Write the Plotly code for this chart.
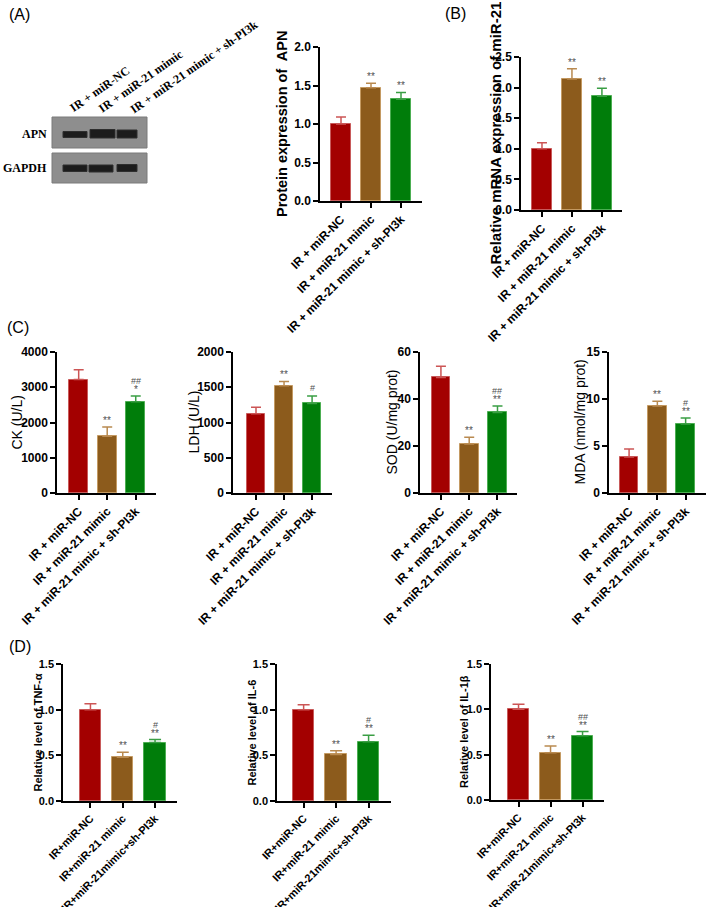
import plotly.graph_objects as go

W, H = 709, 907

# ---------------- data ----------------
groups_long = ["IR + miR-NC", "IR + miR-21 mimic", "IR + miR-21 mimic + sh-PI3k"]
groups_short = ["IR+miR-NC", "IR+miR-21 mimic", "IR+miR-21mimic+sh-PI3k"]

apn_mean = [1.00, 1.47, 1.32]
apn_err = [0.09, 0.06, 0.09]
apn_star = ["", "**", "**"]
apn_hash = ["", "", ""]

mir21_mean = [1.00, 2.14, 1.86]
mir21_err = [0.10, 0.17, 0.13]
mir21_star = ["", "**", "**"]
mir21_hash = ["", "", ""]

ck_mean = [3220, 1610, 2590]
ck_err = [280, 265, 160]
ck_star = ["", "**", "*"]
ck_hash = ["", "", "##"]

ldh_mean = [1125, 1520, 1270]
ldh_err = [90, 62, 105]
ldh_star = ["", "**", ""]
ldh_hash = ["", "", "#"]

sod_mean = [49.2, 20.9, 34.3]
sod_err = [4.7, 2.8, 2.7]
sod_star = ["", "**", "**"]
sod_hash = ["", "", "##"]

mda_mean = [3.83, 9.26, 7.34]
mda_err = [0.85, 0.50, 0.64]
mda_star = ["", "**", "**"]
mda_hash = ["", "", "#"]

tnf_mean = [1.00, 0.48, 0.64]
tnf_err = [0.066, 0.055, 0.033]
tnf_star = ["", "**", "**"]
tnf_hash = ["", "", "#"]

il6_mean = [1.00, 0.51, 0.65]
il6_err = [0.055, 0.040, 0.070]
il6_star = ["", "**", "**"]
il6_hash = ["", "", "#"]

il1b_mean = [1.00, 0.52, 0.71]
il1b_err = [0.055, 0.075, 0.045]
il1b_star = ["", "**", "**"]
il1b_hash = ["", "", "##"]

bar_colors = ["#a30000", "#8c5b1c", "#007d0a"]
edge_colors = ["#c85a5a", "#c49a62", "#4cae52"]
err_colors = ["#cc5555", "#b98a50", "#3a9e44"]

FONT = "Arial, Liberation Sans, sans-serif"
SERIF = "Times New Roman, Liberation Serif, serif"

fig = go.Figure()


def px_x(v):
    return v / W


def px_y(v):
    return 1 - v / H


panels = [
    dict(m=apn_mean, e=apn_err, s=apn_star, h=apn_hash, lab=groups_long,
         xd=(320, 422), yd=(47, 201), xr=(-0.7, 2.7), yr=(0, 2.0), dt=0.5, fmt=".1f",
         title="Protein expression of  APN", tx=282, tfs=14.5, tbold=True, tkfs=12, lfs=12, cap=5),
    dict(m=mir21_mean, e=mir21_err, s=mir21_star, h=mir21_hash, lab=groups_long,
         xd=(521, 622), yd=(57, 210), xr=(-0.7, 2.67), yr=(0, 2.5), dt=0.5, fmt=".1f",
         title="Relative mRNA expression of miR-21", tx=495, tfs=15, tbold=True, tkfs=12, lfs=12, cap=5),
    dict(m=ck_mean, e=ck_err, s=ck_star, h=ck_hash, lab=groups_long,
         xd=(57, 156), yd=(352, 493), xr=(-0.76, 2.71), yr=(0, 4000), dt=1000, fmt="d",
         title="CK (U/L)", tx=16, tfs=14, tbold=False, tkfs=12, lfs=12, cap=5),
    dict(m=ldh_mean, e=ldh_err, s=ldh_star, h=ldh_hash, lab=groups_long,
         xd=(233, 332), yd=(352, 493), xr=(-0.82, 2.71), yr=(0, 2000), dt=500, fmt="d",
         title="LDH (U/L)", tx=193, tfs=14, tbold=False, tkfs=12, lfs=12, cap=5),
    dict(m=sod_mean, e=sod_err, s=sod_star, h=sod_hash, lab=groups_long,
         xd=(420, 517), yd=(352, 493), xr=(-0.74, 2.69), yr=(0, 60), dt=20, fmt="d",
         title="SOD (U/mg prot)", tx=391, tfs=14, tbold=False, tkfs=12, lfs=12, cap=5),
    dict(m=mda_mean, e=mda_err, s=mda_star, h=mda_hash, lab=groups_long,
         xd=(609, 706), yd=(352, 493), xr=(-0.71, 2.72), yr=(0, 15), dt=5, fmt="d",
         title="MDA (nmol/mg prot)", tx=579, tfs=14, tbold=False, tkfs=12, lfs=12, cap=5),
    dict(m=tnf_mean, e=tnf_err, s=tnf_star, h=tnf_hash, lab=groups_short,
         xd=(63, 177), yd=(664, 801), xr=(-0.85, 2.68), yr=(0, 1.5), dt=0.5, fmt=".1f",
         title="Relative level of TNF-α", tx=37, tfs=11, tbold=True, tkfs=11, lfs=11, cap=6),
    dict(m=il6_mean, e=il6_err, s=il6_star, h=il6_hash, lab=groups_short,
         xd=(277, 391), yd=(664, 801), xr=(-0.82, 2.69), yr=(0, 1.5), dt=0.5, fmt=".1f",
         title="Relative level of IL-6", tx=251, tfs=11, tbold=True, tkfs=11, lfs=11, cap=6),
    dict(m=il1b_mean, e=il1b_err, s=il1b_star, h=il1b_hash, lab=groups_short,
         xd=(491, 604), yd=(664, 800), xr=(-0.86, 2.67), yr=(0, 1.5), dt=0.5, fmt=".1f",
         title="Relative level of IL-1β", tx=464, tfs=11, tbold=True, tkfs=11, lfs=11, cap=6),
]

annotations = []
layout_axes = {}

for i, p in enumerate(panels):
    n = i + 1
    xa = "x" if n == 1 else f"x{n}"
    ya = "y" if n == 1 else f"y{n}"
    for j in range(3):
        fig.add_trace(go.Bar(
            x=[j], y=[p["m"][j]], width=0.66,
            marker=dict(color=bar_colors[j], line=dict(color=edge_colors[j], width=1)),
            error_y=dict(type="data", symmetric=False, array=[p["e"][j]], arrayminus=[0],
                         color=err_colors[j], thickness=1.5, width=p["cap"]),
            xaxis=xa, yaxis=ya, showlegend=False, hoverinfo="skip",
        ))
        top = p["m"][j] + p["e"][j]
        if p["s"][j]:
            annotations.append(dict(x=j, y=top, xref=xa, yref=ya, text=p["s"][j],
                                    showarrow=False, yanchor="bottom", yshift=-1,
                                    font=dict(family=FONT, size=10, color="#505050")))
        if p["h"][j]:
            annotations.append(dict(x=j, y=top, xref=xa, yref=ya, text=p["h"][j],
                                    showarrow=False, yanchor="bottom",
                                    yshift=8 if p["s"][j] else 1,
                                    font=dict(family=FONT, size=9, color="#505050")))
    xkey = "xaxis" if n == 1 else f"xaxis{n}"
    ykey = "yaxis" if n == 1 else f"yaxis{n}"
    layout_axes[xkey] = dict(
        domain=[px_x(p["xd"][0]), px_x(p["xd"][1])], range=list(p["xr"]), anchor=ya,
        tickmode="array", tickvals=[0, 1, 2], ticktext=p["lab"], tickangle=-45,
        showline=True, linecolor="black", linewidth=1.5, ticks="outside", ticklen=5,
        tickwidth=1.5, tickcolor="black", showgrid=False, zeroline=False, automargin=False,
        tickfont=dict(family=FONT, size=p["lfs"], color="black", weight="bold"),
        fixedrange=True,
    )
    layout_axes[ykey] = dict(
        domain=[px_y(p["yd"][1]), px_y(p["yd"][0])], range=list(p["yr"]), anchor=xa,
        tickmode="linear", tick0=0, dtick=p["dt"], tickformat=p["fmt"],
        showline=True, linecolor="black", linewidth=1.5, ticks="outside", ticklen=5,
        tickwidth=1.5, tickcolor="black", showgrid=False, zeroline=False, automargin=False,
        tickfont=dict(family=FONT, size=p["tkfs"], color="black", weight="bold"),
        fixedrange=True,
    )
    annotations.append(dict(
        x=px_x(p["tx"]), y=px_y((p["yd"][0] + p["yd"][1]) / 2), xref="paper", yref="paper",
        text=p["title"], textangle=-90, showarrow=False, xanchor="center", yanchor="middle",
        font=dict(family=FONT, size=p["tfs"], color="black",
                  weight="bold" if p["tbold"] else "normal"),
    ))

# panel letters
for txt, x, y in [("(A)", 7, 15), ("(B)", 443, 13), ("(C)", 5, 327), ("(D)", 7, 646)]:
    annotations.append(dict(x=px_x(x), y=px_y(y), xref="paper", yref="paper", text=txt,
                            showarrow=False, xanchor="left", yanchor="middle",
                            font=dict(family=FONT, size=16, color="black")))

# western blot (illustrative image)
blot_lanes = ["IR + miR-NC", "IR + miR-21 mimic", "IR + miR-21 mimic + sh-PI3k"]
blot_rows = ["APN", "GAPDH"]
shapes = []
boxes = [(52, 147, 117, 148), (52, 147, 153, 183)]
for (x0, x1, y0, y1) in boxes:
    shapes.append(dict(type="rect", xref="paper", yref="paper",
                       x0=px_x(x0), x1=px_x(x1), y0=px_y(y1), y1=px_y(y0),
                       fillcolor="#8e8e8e", line=dict(color="#7a7a7a", width=1), layer="above"))
bands = [
    (63, 87, 131.5, 137.5), (90, 115, 129.5, 138), (117, 137, 130, 138),
    (63, 87, 165, 171.5), (89, 113, 165, 172), (117, 137, 164.5, 171.5),
]
for (x0, x1, y0, y1) in bands:
    shapes.append(dict(type="rect", xref="paper", yref="paper",
                       x0=px_x(x0), x1=px_x(x1), y0=px_y(y1), y1=px_y(y0),
                       fillcolor="#1c1c1c", line=dict(color="#2e2e2e", width=1), layer="above"))
for txt, cx, cy in zip(blot_lanes, [100, 141, 194], [89, 81, 67]):
    annotations.append(dict(x=px_x(cx), y=px_y(cy), xref="paper", yref="paper", text=txt,
                            textangle=-35, showarrow=False, xanchor="center", yanchor="middle",
                            font=dict(family=SERIF, size=12, color="black", weight="bold")))
for txt, cy in zip(blot_rows, [134, 168]):
    annotations.append(dict(x=px_x(49), y=px_y(cy), xref="paper", yref="paper", text=txt,
                            showarrow=False, xanchor="right", yanchor="middle",
                            font=dict(family=SERIF, size=12, color="black", weight="bold")))

fig.update_layout(
    template="none", autosize=False,
    width=W, height=H, margin=dict(l=0, r=0, t=0, b=0, pad=0),
    paper_bgcolor="white", plot_bgcolor="white",
    annotations=annotations, shapes=shapes, bargap=0,
    font=dict(family=FONT, color="black"),
    **layout_axes,
)

fig.write_html(
    "out.html",
    config={"displayModeBar": False, "responsive": False},
    post_script="document.body.style.margin='0px';document.body.style.overflow='hidden';",
)
